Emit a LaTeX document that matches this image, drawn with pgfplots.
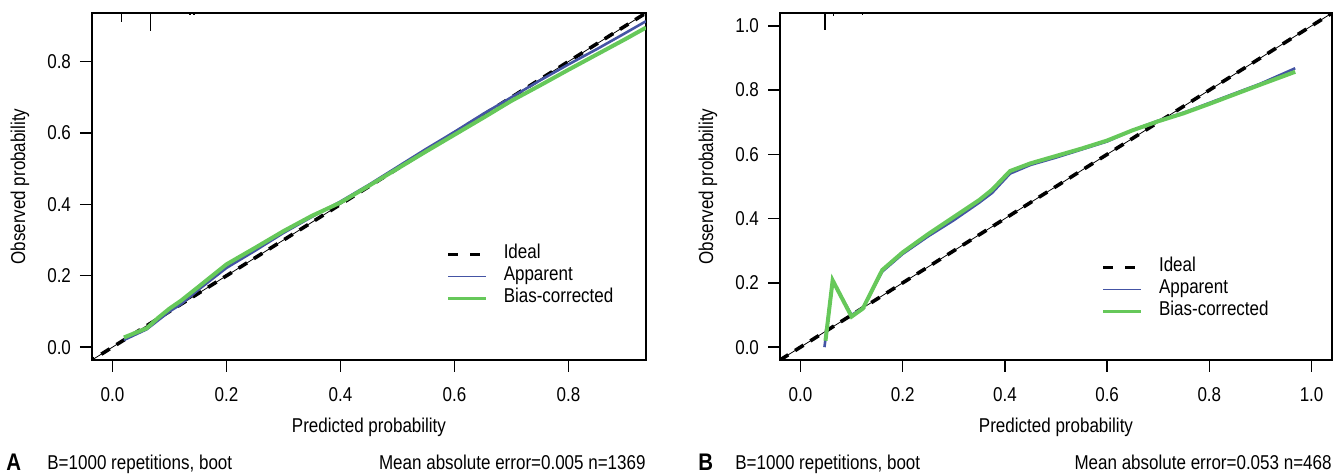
\documentclass[border=0pt]{standalone}
\usepackage{fontspec}
\setmainfont{Liberation Sans}[FakeStretch=0.85]
\usepackage{pgfplots}
\pgfplotsset{compat=1.18}

\definecolor{apparent}{HTML}{4454A4}
\definecolor{biascorr}{HTML}{66C85A}

\pgfplotsset{
  calib/.style={
    scale only axis,width=277pt,height=173.5pt,anchor=south west,
    axis line style={black,line width=0.7pt},
    tick align=outside,tick pos=left,major tick length=6pt,
    major tick style={black,line width=0.7pt},
    xticklabel style={yshift=-4pt,/pgf/number format/.cd,fixed,fixed zerofill,precision=1,assume math mode=true},
    yticklabel style={xshift=-1pt,/pgf/number format/.cd,fixed,fixed zerofill,precision=1,assume math mode=true},
    xlabel={Predicted probability},ylabel={Observed probability},
    xlabel style={at={(axis description cs:0.5,0)},anchor=center,yshift=-33.5pt},
    ylabel style={at={(axis description cs:0,0.5)},anchor=center,rotate=0,yshift=36pt},
    legend style={draw=none,fill=none,anchor=north west,inner sep=0pt,outer sep=0pt,
      row sep=0pt,cells={anchor=west},
      nodes={inner sep=0pt,text height=7.5pt,text depth=3.5pt},
      /tikz/every odd column/.style={column sep=8pt}},
    unbounded coords=jump,
  },
  ideal/.style={black,line width=1.8pt,dash pattern=on 5pt off 4pt,
    legend image code/.code={\draw[black,line width=1.6pt,dash pattern=on 5pt off 6pt] (0pt,0pt) -- (19pt,0pt);}},
  app/.style={apparent,line width=1.3pt,
    legend image code/.code={\draw[apparent,line width=0.75pt] (0pt,0pt) -- (19pt,0pt);}},
  bias/.style={biascorr,line width=2pt,
    legend image code/.code={\draw[biascorr,line width=1.5pt] (0pt,0pt) -- (19pt,0pt);}},
  spikes/.style={forget plot,black,line width=0.6pt,mark=none},
}

\begin{document}
\begin{tikzpicture}[x=1pt,y=1pt]
\useasboundingbox (0,0) rectangle (669,237.5);

% panel A
\begin{axis}[calib,at={(46pt,57.5pt)},
  xmin=-0.036,xmax=0.936,ymin=-0.036,ymax=0.936,
  xtick={0,0.2,0.4,0.6,0.8},ytick={0,0.2,0.4,0.6,0.8},
  legend style={at={(0.640,0.336)}}]
  % spike histogram of predictions along the top
  \addplot[spikes] coordinates {(0.016,0.936) (0.016,0.912) (0.016,nan)
    (0.066,0.936) (0.066,0.886) (0.066,nan)
    (0.136,0.936) (0.136,0.930) (0.136,nan)
    (0.143,0.936) (0.143,0.930) (0.143,nan)
    (0.334,0.936) (0.334,0.932) (0.334,nan)
    (0.81,0.936) (0.81,0.932)};
  \addplot[black,line width=0.4pt,forget plot] coordinates {(-0.1,-0.1) (1.1,1.1)};
  \addplot[ideal] coordinates {(-0.1,-0.1) (1.1,1.1)};
  \addplot[app] coordinates {(0.02,0.02) (0.04,0.035) (0.06,0.05) (0.08,0.075)
    (0.10,0.10) (0.12,0.12) (0.15,0.16) (0.2,0.222) (0.25,0.27) (0.3,0.32)
    (0.35,0.365) (0.4,0.408) (0.45,0.455) (0.5,0.505) (0.55,0.555) (0.6,0.603)
    (0.65,0.653) (0.7,0.70) (0.75,0.747) (0.8,0.792) (0.85,0.835) (0.9,0.88)
    (0.936,0.913)};
  \addplot[bias] coordinates {(0.02,0.027) (0.04,0.04) (0.06,0.053) (0.08,0.082)
    (0.10,0.108) (0.12,0.13) (0.15,0.168) (0.2,0.232) (0.25,0.278) (0.3,0.325)
    (0.35,0.368) (0.4,0.405) (0.45,0.452) (0.5,0.5) (0.55,0.548) (0.6,0.595)
    (0.65,0.642) (0.7,0.69) (0.75,0.733) (0.8,0.777) (0.85,0.82) (0.9,0.863)
    (0.936,0.895)};
  \legend{Ideal,Apparent,Bias-corrected}
\end{axis}

% panel B
\begin{axis}[calib,at={(390pt,57.5pt)},width=276pt,
  xmin=-0.04,xmax=1.04,ymin=-0.04,ymax=1.04,
  xtick={0,0.2,0.4,0.6,0.8,1.0},ytick={0,0.2,0.4,0.6,0.8,1.0},
  legend style={at={(0.583,0.298)}}]
  \addplot[spikes] coordinates {(0.048,1.04) (0.048,0.987) (0.048,nan)
    (0.064,1.04) (0.064,1.031) (0.064,nan)
    (0.122,1.04) (0.122,1.034) (0.122,nan)
    (0.37,1.04) (0.37,1.036)};
  \addplot[black,line width=0.4pt,forget plot] coordinates {(-0.1,-0.1) (1.1,1.1)};
  \addplot[ideal] coordinates {(-0.1,-0.1) (1.1,1.1)};
  \addplot[app] coordinates {(0.047,0.0) (0.063,0.205) (0.1,0.1) (0.122,0.122)
    (0.16,0.235) (0.2,0.29) (0.25,0.345) (0.3,0.395) (0.35,0.45) (0.375,0.48)
    (0.41,0.54) (0.45,0.567) (0.5,0.59) (0.55,0.615) (0.6,0.64) (0.65,0.675)
    (0.7,0.705) (0.75,0.73) (0.8,0.76) (0.85,0.79) (0.9,0.82) (0.968,0.868)};
  \addplot[bias] coordinates {(0.049,0.02) (0.063,0.208) (0.1,0.095) (0.122,0.12)
    (0.16,0.24) (0.2,0.295) (0.25,0.352) (0.3,0.405) (0.35,0.458) (0.375,0.49)
    (0.41,0.548) (0.45,0.572) (0.5,0.595) (0.55,0.618) (0.6,0.643) (0.65,0.675)
    (0.7,0.703) (0.75,0.728) (0.8,0.757) (0.85,0.787) (0.9,0.817) (0.968,0.857)};
  \legend{Ideal,Apparent,Bias-corrected}
\end{axis}

% captions under the panels
\node[anchor=base west,inner sep=0pt,font=\fontsize{12}{14}\selectfont\bfseries] at (3,2.2) {A};
\node[anchor=base west,inner sep=0pt] at (23.5,2.75) {B=1000 repetitions, boot};
\node[anchor=base east,inner sep=0pt] at (323,2.75) {Mean absolute error=0.005 n=1369};
\node[anchor=base west,inner sep=0pt,font=\fontsize{12}{14}\selectfont\bfseries] at (349,2.2) {B};
\node[anchor=base west,inner sep=0pt] at (367.5,2.75) {B=1000 repetitions, boot};
\node[anchor=base east,inner sep=0pt] at (666,2.75) {Mean absolute error=0.053 n=468};
\end{tikzpicture}
\end{document}
